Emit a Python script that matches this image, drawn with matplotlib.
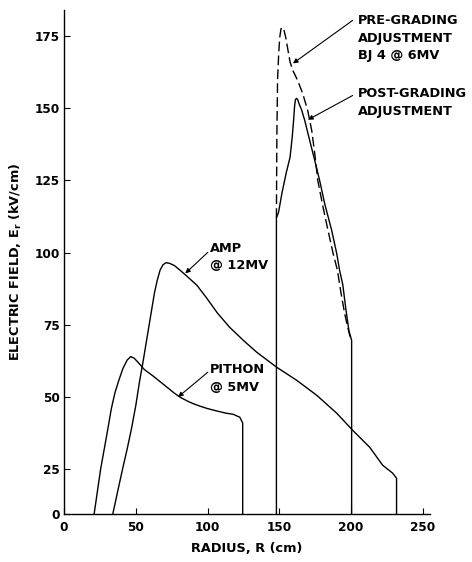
import numpy as np
import matplotlib
matplotlib.use("Agg")
import matplotlib.pyplot as plt

# radius (cm) / field (kV/cm)
pithon_r = [21, 25.5, 29.5, 33, 35.5, 38, 41, 44, 46.5, 49, 52, 56, 62, 67, 72, 77, 81, 86, 90,
            95, 100, 107, 113, 118, 122.5, 124.5, 124.5]
pithon_e = [0, 25, 36, 46, 51.5, 55.5, 59.8, 62.8, 64, 63.4, 61.8, 59.5, 57.3, 55.3, 53.3, 51.3,
            49.9, 48.6, 47.7, 46.8, 46, 45.1, 44.4, 44, 43, 41, 0]

amp_r = [34, 37.5, 41, 44, 47, 50, 52.5, 55, 57, 59, 61, 63, 65, 67, 69, 71, 73.5, 77, 83,
         92.6, 99.5, 107, 115.5, 125, 134.3, 148.2, 162.1, 176.1, 190, 201.1, 213, 222, 229,
         231.7, 231.7]
amp_e = [0, 13, 25.5, 32, 39, 47, 55, 62, 68, 74, 80, 86, 90.5, 94, 95.8, 96.5, 96.3, 95.5, 93,
         88.7, 84.2, 79, 74.1, 69.6, 65.5, 60.3, 55.8, 50.6, 44.4, 38.5, 32.6, 26.4, 22.8,
         20, 0]

post_r = [148, 148, 149.5, 152, 155, 157.5, 159, 160, 160.7, 161.3, 162, 162.8, 163.8, 165.5,
          167.7, 171.2, 174.7, 178.1, 181.6, 186.5, 190, 192, 194.2, 196.5, 198.5, 200.4, 200.4]
post_e = [0, 112, 114, 121, 128, 133, 140, 146, 151, 153, 153.4, 153, 151.5, 149.5, 145.8,
          138.8, 131.9, 125, 117, 107.7, 99.7, 93.9, 89, 80, 73, 69.6, 0]

pre_r = [148, 148.3, 148.8, 149.6, 150.3, 151.2, 152.2, 153.3, 154.5, 155.9, 157.5, 159.4,
         162.8, 166.3, 169.8, 172.6, 174.7, 176.8, 180.5, 183.5, 187.5, 190.5, 193, 195.5,
         197.3, 199, 200.4]
pre_e = [112, 140, 160, 169, 174.5, 177.5, 178, 177, 174.5, 170.5, 166, 163.1, 159.6, 155.1,
         149.2, 142.3, 134.3, 125, 115.7, 108.7, 99.7, 93.9, 86, 79, 75, 71.5, 69.6]

x_ticks = [0, 50, 100, 150, 200, 250]
y_ticks = [0, 25, 50, 75, 100, 125, 150, 175]

plt.rcParams['font.family'] = 'DejaVu Sans'
plt.rcParams['font.weight'] = 'bold'
plt.rcParams['mathtext.default'] = 'bf'

# the original axis squeezes the 0-25 band
k = 0.62


def fwd(y):
    y = np.asarray(y, float)
    return np.where(y < 25, y * k, 25 * k + (y - 25))


def inv(t):
    t = np.asarray(t, float)
    return np.where(t < 25 * k, t / k, t - 25 * k + 25)


fig = plt.figure(figsize=(4.72, 5.62), dpi=100)
ax = fig.add_axes([64 / 472, 48 / 562, 366 / 472, 504 / 562])
ax.set_yscale('function', functions=(fwd, inv))

ax.plot(pithon_r, pithon_e, color='black', lw=1.0)
ax.plot(amp_r, amp_e, color='black', lw=1.0)
ax.plot(post_r, post_e, color='black', lw=1.0)
ax.plot(pre_r, pre_e, color='black', lw=1.0, linestyle=(0, (7, 3)))

ax.set_xlim(0, 255)
ax.set_ylim(0, 184)
ax.set_xticks(x_ticks)
ax.set_yticks(y_ticks)
ax.set_xticklabels([str(t) for t in x_ticks], fontsize=8.7, fontweight='bold')
ax.set_yticklabels([str(t) for t in y_ticks], fontsize=8.7, fontweight='bold')
ax.tick_params(direction='in', length=4, width=0.8, pad=3)
ax.tick_params(axis='x', pad=5)
for s in ['top', 'right']:
    ax.spines[s].set_visible(False)
for s in ['left', 'bottom']:
    ax.spines[s].set_linewidth(1.0)

ax.set_xlabel('RADIUS, R (cm)', fontsize=9.3, fontweight='bold')
ax.set_ylabel('ELECTRIC FIELD, E$_r$ (kV/cm)', fontsize=9.3, fontweight='bold')
ax.xaxis.set_label_coords(0.5, -0.056)
ax.yaxis.set_label_coords(-0.11, 0.5)

arrow = dict(arrowstyle='-|>', color='black', lw=0.8, mutation_scale=7,
             shrinkA=0, shrinkB=0)
ax.annotate('', xy=(159.5, 165.5), xytext=(201.1, 180.4), arrowprops=arrow, annotation_clip=False)
ax.annotate('', xy=(170, 146), xytext=(201.1, 154.4), arrowprops=arrow)
ax.annotate('', xy=(84.5, 92.8), xytext=(100.2, 100.1), arrowprops=arrow)
ax.annotate('', xy=(79.5, 50), xytext=(100.2, 58.6), arrowprops=arrow)

txt = dict(fontsize=9.3, fontweight='bold', ha='left', va='center', linespacing=1.45)
ax.text(204.6, 174.3, 'PRE-GRADING\nADJUSTMENT\nBJ 4 @ 6MV', **txt)
ax.text(204.6, 152, 'POST-GRADING\nADJUSTMENT', **txt)
ax.text(101.6, 98.4, 'AMP\n@ 12MV', **txt)
ax.text(101.6, 56.5, 'PITHON\n@ 5MV', **txt)

fig.savefig('out.png', dpi=100)
